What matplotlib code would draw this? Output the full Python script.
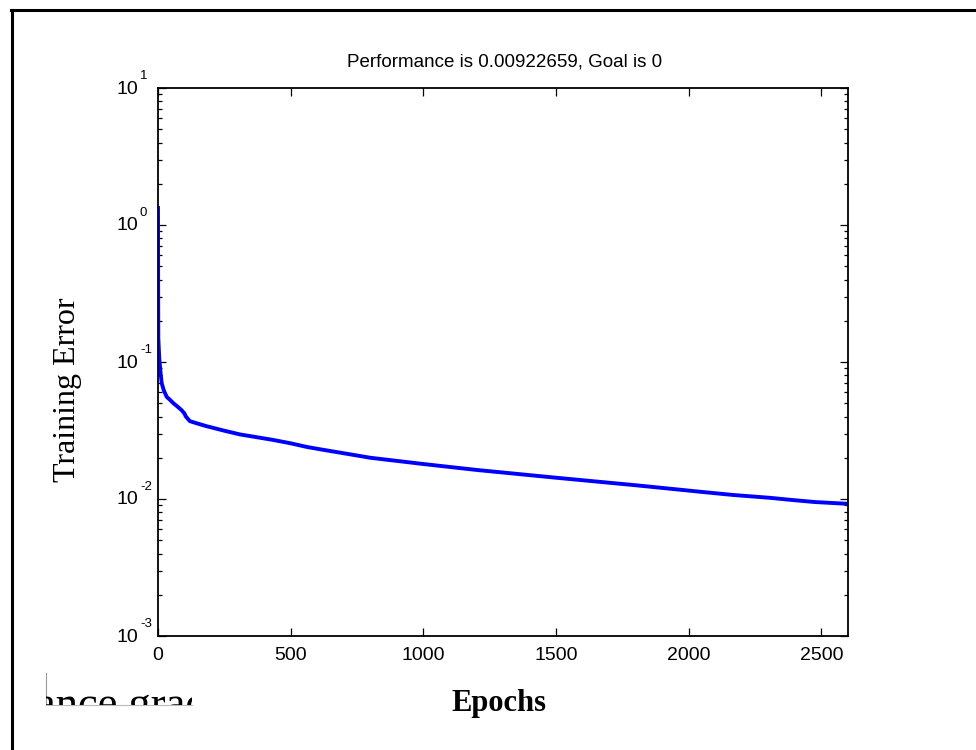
import matplotlib
matplotlib.use("Agg")
import matplotlib.pyplot as plt
from matplotlib.ticker import LogLocator, NullFormatter, FixedLocator
from matplotlib.transforms import Bbox, TransformedBbox, offset_copy
from matplotlib.lines import Line2D

# ---- data ----
epochs = [0, 0.5, 1.2, 3, 5, 7.5, 10, 14, 22, 33, 45, 58, 75, 89, 100, 105, 120,
          150, 183, 250, 309, 370, 433, 500, 560, 620, 686, 800, 1000, 1200,
          1500, 1800, 2042, 2167, 2306, 2388, 2476, 2600]
errors = [1.33, 0.40, 0.15, 0.125, 0.105, 0.093, 0.082, 0.070, 0.062, 0.0556,
          0.053, 0.050, 0.047, 0.0445, 0.042, 0.040, 0.037, 0.0355, 0.034,
          0.0315, 0.0296, 0.0283, 0.027, 0.0255, 0.024, 0.0229, 0.0218, 0.0200,
          0.0180, 0.0163, 0.0143, 0.0126, 0.0113, 0.0107, 0.0102, 0.00984,
          0.0095, 0.00922]
x_ticks = [0, 500, 1000, 1500, 2000, 2500]
y_decades = [-3, -2, -1, 0, 1]
title_text = "Performance is 0.00922659, Goal is 0"
ylabel_text = "Training Error"
xlabel_text = "Epochs"
fragment_text = "ance grad"

plt.rcParams['font.family'] = ['Liberation Sans', 'DejaVu Sans']

W, H = 976, 750
fig = plt.figure(figsize=(W / 100, H / 100), dpi=100)
fig.patch.set_facecolor('white')

L, R, T, B = 158, 848, 88, 636
ax = fig.add_axes([L / W, 1 - B / H, (R - L) / W, (B - T) / H])

ax.plot(epochs, errors, color=(0, 0, 1), lw=2.8, solid_joinstyle='round')
ax.set_yscale('log')
ax.set_ylim(1e-3, 1e1)
ax.set_xlim(0, 2600)
ax.xaxis.set_major_locator(FixedLocator(x_ticks))
ax.yaxis.set_major_locator(FixedLocator([10.0 ** d for d in y_decades]))
ax.yaxis.set_major_formatter(NullFormatter())
ax.yaxis.set_minor_locator(LogLocator(base=10, subs=range(2, 10), numticks=20))
ax.yaxis.set_minor_formatter(NullFormatter())

for s in ax.spines.values():
    s.set_linewidth(1.3)
ax.tick_params(which='both', direction='in', top=True, right=True, width=0.9)
ax.tick_params(which='major', length=5.5)
ax.tick_params(which='minor', length=3)
ax.tick_params(axis='x', labelsize=14, pad=8)

# MATLAB-style y tick labels: "10" with a small raised exponent
ytr = ax.get_yaxis_transform()
base_tr = offset_copy(ytr, fig=fig, x=-20, y=-1, units='dots')
exp_tr = offset_copy(ytr, fig=fig, x=-18, y=6, units='dots')
for d in y_decades:
    ax.text(0, 10.0 ** d, "10", transform=base_tr, ha='right', va='center',
            fontsize=14, clip_on=False)
    ax.text(0, 10.0 ** d, str(d), transform=exp_tr, ha='left', va='bottom',
            fontsize=9.5, clip_on=False)

fig.text(505 / W, 1 - 62 / H, title_text, ha='center', va='center', fontsize=13.5)
fig.text(68 / W, 1 - 390 / H, ylabel_text, rotation=90, ha='center', va='center',
         fontsize=23, family=['Liberation Serif', 'DejaVu Serif'])
fig.text(499 / W, 1 - 704 / H, xlabel_text, ha='center', va='center',
         fontsize=22, fontweight='bold', family=['Liberation Serif', 'DejaVu Serif'])

# cropped text fragment at the lower left
frag = fig.text(36 / W, 1 - 717 / H, fragment_text, ha='left', va='baseline',
                fontsize=32, family=['Liberation Serif', 'DejaVu Serif'])
clip = TransformedBbox(Bbox.from_extents(46 / W, 1 - 705 / H, 192 / W, 1 - 673 / H),
                       fig.transFigure)
frag.set_clip_box(clip)
frag.set_clip_on(True)
fig.add_artist(Line2D([46 / W, 46 / W], [1 - 705 / H, 1 - 673 / H],
                      transform=fig.transFigure, color='#999999', lw=0.8))
fig.add_artist(Line2D([46 / W, 192 / W], [1 - 705 / H, 1 - 705 / H],
                      transform=fig.transFigure, color='#bbbbbb', lw=0.8))

# page border (top and left only visible)
fig.add_artist(Line2D([11 / W, 1.0], [1 - 10 / H, 1 - 10 / H],
                      transform=fig.transFigure, color='black', lw=2.2))
fig.add_artist(Line2D([12 / W, 12 / W], [1 - 10 / H, 0.0],
                      transform=fig.transFigure, color='black', lw=2.2))

fig.savefig('out.png', dpi=100, facecolor='white')
